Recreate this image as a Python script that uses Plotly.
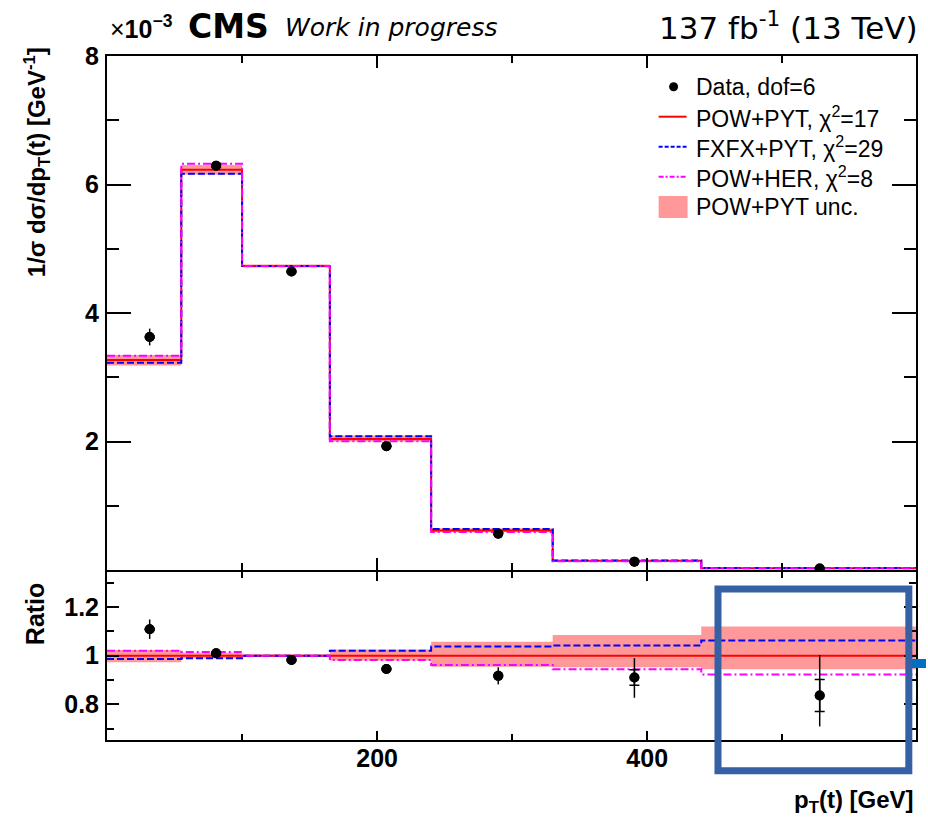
import plotly.graph_objects as go
from plotly.subplots import make_subplots

# ---------------- data ----------------
bin_edges = [0, 55, 100, 165, 240, 330, 440, 600]
data_x = [31.6, 80.8, 136.6, 206.9, 289.7, 390.5, 527.7]
pow_pyt = [3.27, 6.23, 4.73, 2.04, 0.615, 0.143, 0.028]       # x 1e-3 GeV^-1
fxfx_ratio = [0.986, 0.99, 1.0, 1.02, 1.038, 1.042, 1.063]
her_ratio = [1.02, 1.015, 1.0, 0.982, 0.962, 0.944, 0.923]
data_ratio = [1.109, 1.01, 0.982, 0.945, 0.917, 0.91, 0.836]
err_tot_up = [0.04, 0.012, 0.008, 0.012, 0.035, 0.08, 0.167]
err_tot_dn = [0.04, 0.012, 0.008, 0.012, 0.035, 0.083, 0.127]
err_stat = [0.003, 0.003, 0.003, 0.003, 0.004, 0.032, 0.066]
band_up = [0.023, 0.012, 0.005, 0.026, 0.057, 0.085, 0.12]
band_dn = [0.027, 0.012, 0.005, 0.02, 0.045, 0.048, 0.056]

legend_labels = ["Data, dof=6", "POW+PYT, \u03c7<sup>2</sup>=17",
                 "FXFX+PYT, \u03c7<sup>2</sup>=29", "POW+HER, \u03c7<sup>2</sup>=8",
                 "POW+PYT unc."]
x_tick_vals = [200, 400]
y_tick_vals = [2, 4, 6, 8]
r_tick_vals = [0.8, 1.0, 1.2]
r_tick_text = ["0.8", "1", "1.2"]

# ---------------- derived ----------------
fxfx = [p * r for p, r in zip(pow_pyt, fxfx_ratio)]
her = [p * r for p, r in zip(pow_pyt, her_ratio)]
data_vals = [p * r for p, r in zip(pow_pyt, data_ratio)]
top_up = [p * (1 + u) for p, u in zip(pow_pyt, band_up)]
top_dn = [p * (1 - d) for p, d in zip(pow_pyt, band_dn)]
r_up = [1 + u for u in band_up]
r_dn = [1 - d for d in band_dn]
ones = [1.0] * len(pow_pyt)


def step(v):
    return list(v) + [v[-1]]


# ---------------- geometry (pixels) ----------------
W, H = 928, 830
L, R, T, B = 107, 918, 56, 740
SPLIT = 570
PW, PH = R - L, B - T


def px(x):
    return (x - L) / PW


def py(y):
    return (B - y) / PH


RED = "#ff0000"
BLUE = "#0000ff"
MAG = "#ff00ff"
BAND = "#ff9999"
DASH = "7px,3px"
DASHDOT = "8px,3px,2px,3px"

fig = make_subplots(rows=2, cols=1, shared_xaxes=False, vertical_spacing=0)

for row, lo, hi, ref, fx, hr, dv, scale in [
        (1, top_dn, top_up, pow_pyt, fxfx, her, data_vals, pow_pyt),
        (2, r_dn, r_up, ones, fxfx_ratio, her_ratio, data_ratio, ones)]:
    fig.add_trace(go.Scatter(x=bin_edges, y=step(lo), mode="lines", line_shape="hv",
                             line=dict(width=0, color=BAND), hoverinfo="skip",
                             showlegend=False), row=row, col=1)
    fig.add_trace(go.Scatter(x=bin_edges, y=step(hi), mode="lines", line_shape="hv",
                             line=dict(width=0, color=BAND), fill="tonexty",
                             fillcolor=BAND, showlegend=False), row=row, col=1)
    fig.add_trace(go.Scatter(x=bin_edges, y=step(ref), mode="lines", line_shape="hv",
                             line=dict(width=2, color=RED), showlegend=False),
                  row=row, col=1)
    fig.add_trace(go.Scatter(x=bin_edges, y=step(fx), mode="lines", line_shape="hv",
                             line=dict(width=2, color=BLUE, dash=DASH), showlegend=False),
                  row=row, col=1)
    fig.add_trace(go.Scatter(x=bin_edges, y=step(hr), mode="lines", line_shape="hv",
                             line=dict(width=2, color=MAG, dash=DASHDOT), showlegend=False),
                  row=row, col=1)
    eu = [e * s for e, s in zip(err_tot_up, scale)]
    ed = [e * s for e, s in zip(err_tot_dn, scale)]
    es = [e * s for e, s in zip(err_stat, scale)]
    fig.add_trace(go.Scatter(x=data_x, y=dv, mode="markers",
                             marker=dict(size=10, color="black"),
                             error_y=dict(type="data", symmetric=True, array=es,
                                          color="black", thickness=1.5, width=5),
                             showlegend=False), row=row, col=1)
    fig.add_trace(go.Scatter(x=data_x, y=dv, mode="markers",
                             marker=dict(size=10, color="black"),
                             error_y=dict(type="data", symmetric=False, array=eu,
                                          arrayminus=ed, color="black",
                                          thickness=1.5, width=0),
                             showlegend=False), row=row, col=1)

tickfont = dict(family="Liberation Sans", size=25, color="black", weight="bold")
axis_common = dict(showline=True, linecolor="black", linewidth=2, mirror="ticks",
                   ticks="inside", showgrid=False, zeroline=False,
                   tickcolor="black", tickwidth=1.5, tickfont=tickfont)

# ratio panel top edge 2px lower so that both frame lines coincide
RATIO_TOP = SPLIT + 2
r_lo = 1 - (B - 655.7) / 243.0
r_hi = 1 + (655.7 - RATIO_TOP) / 243.0

fig.update_xaxes(range=[0, 599], tickmode="array", tickvals=x_tick_vals,
                 **axis_common)
fig.update_xaxes(row=1, col=1, showticklabels=False, ticklen=12,
                 minor=dict(ticks="inside", tickvals=[100, 300, 500], ticklen=7,
                            tickcolor="black", tickwidth=1.5, showgrid=False))
fig.update_xaxes(row=2, col=1, ticklen=9, ticklabelstandoff=-5,
                 minor=dict(ticks="inside", tickvals=[100, 300, 500], ticklen=6,
                            tickcolor="black", tickwidth=1.5, showgrid=False))
fig.update_yaxes(row=1, col=1, range=[0, 8], tickmode="array", tickvals=y_tick_vals,
                 domain=[py(SPLIT), 1], ticklen=24, ticklabelstandoff=1,
                 minor=dict(ticks="inside", tickvals=[1, 3, 5, 7], ticklen=12,
                            tickcolor="black", tickwidth=1.5, showgrid=False),
                 **axis_common)
fig.update_yaxes(row=2, col=1, range=[r_lo, r_hi], tickmode="array",
                 domain=[0, py(RATIO_TOP)],
                 tickvals=r_tick_vals, ticktext=r_tick_text, ticklen=12,
                 ticklabelstandoff=1,
                 minor=dict(ticks="inside", tickvals=[0.7, 0.9, 1.1, 1.3], ticklen=7,
                            tickcolor="black", tickwidth=1.5, showgrid=False),
                 **axis_common)

ann = []


def text(x, y, s, size, xanchor="left", yanchor="middle", family="Liberation Sans",
         angle=0, weight="normal", style="normal"):
    ann.append(dict(x=px(x), y=py(y), xref="paper", yref="paper", text=s,
                    showarrow=False, xanchor=xanchor, yanchor=yanchor, textangle=angle,
                    font=dict(family=family, size=size, color="black", weight=weight,
                              style=style)))


# header
text(108, 27, "\u00d7<b>10<sup>\u22123</sup></b>", 25)
text(186, 27, "CMS", 33, family="DejaVu Sans", weight="bold")
text(283, 28, "Work in progress", 25, family="DejaVu Sans", style="italic")
text(922, 26, "137 fb<sup>-1</sup> (13 TeV)", 31, xanchor="right", family="DejaVu Sans")

# axis titles
text(37, 162, "1/\u03c3 d\u03c3/dp<sub>T</sub>(t) [GeV<sup>-1</sup>]", 24, xanchor="center",
     angle=-90, weight="bold")
text(35, 614, "Ratio", 25, xanchor="center", angle=-90, weight="bold")
text(918, 801, "p<sub>T</sub>(t) [GeV]", 24, xanchor="right", weight="bold")

# legend
rows_y = [86.7, 116.7, 146.7, 176.7, 206.7]
for s, yy in zip(legend_labels, rows_y):
    text(695, yy, s, 23)

shapes = []
shapes.append(dict(type="circle", xref="paper", yref="paper",
                   x0=px(670.5), x1=px(679.5), y0=py(rows_y[0] + 4.5), y1=py(rows_y[0] - 4.5),
                   fillcolor="black", line=dict(width=0)))
for yy, col, dash in [(rows_y[1], RED, "solid"), (rows_y[2], BLUE, "4px,2px"),
                      (rows_y[3], MAG, "5px,2px,2px,2px")]:
    shapes.append(dict(type="line", xref="paper", yref="paper", x0=px(660), x1=px(688),
                       y0=py(yy), y1=py(yy), line=dict(color=col, width=2, dash=dash)))
shapes.append(dict(type="rect", xref="paper", yref="paper", x0=px(660), x1=px(689),
                   y0=py(218), y1=py(196), fillcolor=BAND, line=dict(width=0)))

# overlay markup (blue box + small bar)
shapes.append(dict(type="rect", xref="paper", yref="paper", x0=px(911), x1=px(928),
                   y0=py(668), y1=py(659), fillcolor="#0070c0", line=dict(width=0),
                   layer="above"))
shapes.append(dict(type="rect", xref="paper", yref="paper", x0=px(719.5), x1=px(910.8),
                   y0=py(770.8), y1=py(589), fillcolor="rgba(0,0,0,0)",
                   line=dict(color="#3560a3", width=7), layer="above"))

fig.update_layout(width=W, height=H, margin=dict(l=L, r=W - R, t=T, b=H - B),
                  plot_bgcolor="white", paper_bgcolor="white", showlegend=False,
                  annotations=ann, shapes=shapes,
                  font=dict(family="Liberation Sans", color="black"))

fig.write_html("out.html", config={"displayModeBar": False},
               post_script="document.body.style.margin='0px';"
                           "document.body.style.overflow='hidden';")
